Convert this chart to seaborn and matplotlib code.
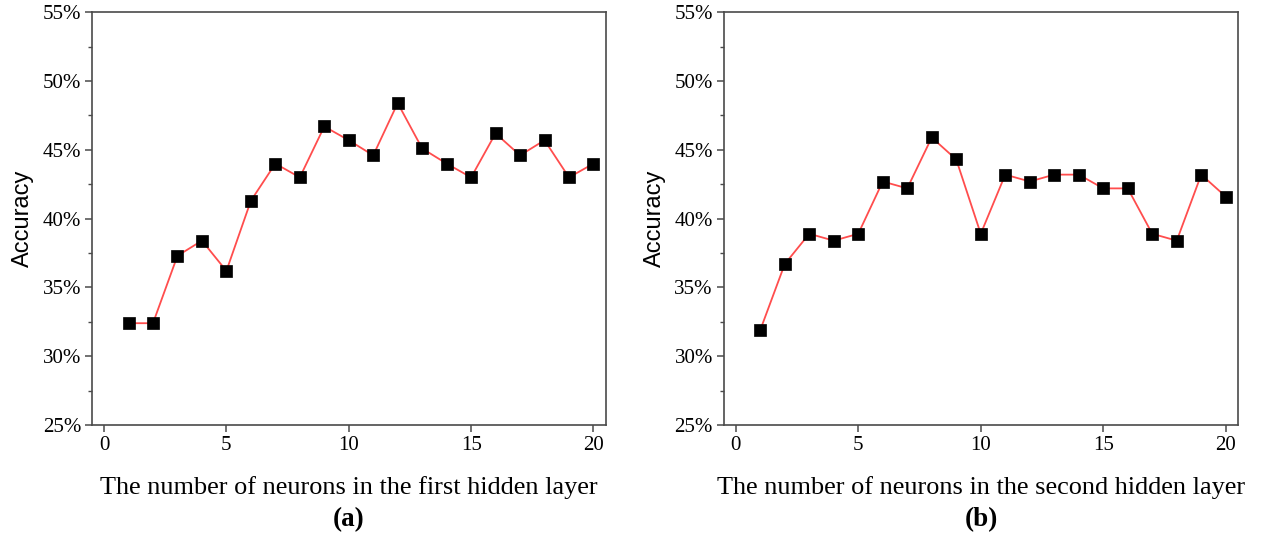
import matplotlib
matplotlib.use("Agg")
import matplotlib.pyplot as plt
import matplotlib.ticker as mticker
import numpy as np
import pandas as pd
import seaborn as sns

# Number of neurons tried in each hidden layer
neurons = list(range(1, 21))

# Classification accuracy (%) for each neuron count
acc_first = [32.4, 32.4, 37.3, 38.4, 36.2, 41.3, 44.0, 43.0, 46.7, 45.7,
             44.6, 48.4, 45.1, 44.0, 43.0, 46.2, 44.6, 45.7, 43.0, 44.0]
acc_second = [31.9, 36.7, 38.9, 38.4, 38.9, 42.7, 42.2, 45.9, 44.3, 38.9,
              43.2, 42.7, 43.2, 43.2, 42.2, 42.2, 38.9, 38.4, 43.2, 41.6]

xlabels = ["The number of neurons in the first hidden layer",
           "The number of neurons in the second hidden layer"]
panel_tags = ["(a)", "(b)"]

sns.set_style("ticks")
plt.rcParams["font.family"] = ["Liberation Serif", "DejaVu Serif"]
plt.rcParams["text.color"] = "black"
plt.rcParams["axes.labelcolor"] = "black"
plt.rcParams["xtick.labelcolor"] = "black"
plt.rcParams["ytick.labelcolor"] = "black"

W, H = 1261, 539
fig = plt.figure(figsize=(W / 100, H / 100), dpi=100)

axes_px = [(92.3, 605.7), (724.0, 1238.0)]
top_px, bottom_px = 12.3, 425.0

spine_col = "#4a4a4a"
line_col = "#ff4d4d"

for i, (series, xl, tag) in enumerate(zip([acc_first, acc_second], xlabels, panel_tags)):
    x0, x1 = axes_px[i]
    ax = fig.add_axes([x0 / W, 1 - bottom_px / H, (x1 - x0) / W, (bottom_px - top_px) / H])
    df = pd.DataFrame({"n": neurons, "acc": series})
    sns.lineplot(data=df, x="n", y="acc", ax=ax, color=line_col, linewidth=1.3,
                 marker="s", markersize=8, markerfacecolor="black",
                 markeredgecolor="black", markeredgewidth=0.5)

    ax.set_xlim(-0.48, 20.5)
    ax.set_ylim(25, 55)
    ax.xaxis.set_major_locator(mticker.MultipleLocator(5))
    ax.yaxis.set_major_locator(mticker.MultipleLocator(5))
    ax.yaxis.set_minor_locator(mticker.MultipleLocator(2.5))
    ax.yaxis.set_major_formatter(mticker.FuncFormatter(lambda v, p: f"{v:.0f}%"))

    for s in ax.spines.values():
        s.set_visible(True)
        s.set_color(spine_col)
        s.set_linewidth(1.2)

    ax.tick_params(axis="both", which="major", direction="out", length=5,
                   width=1.1, color=spine_col, labelsize=15, pad=3,
                   labelcolor="black")
    ax.tick_params(axis="y", which="minor", direction="out", length=3,
                   width=1.0, color=spine_col)

    ax.set_xlabel(xl, fontsize=18.9, labelpad=15, color="black")
    ax.set_ylabel("Accuracy", fontsize=17, family=["Liberation Sans", "DejaVu Sans"],
                  labelpad=6, color="black")

    cx = (x0 + x1) / 2 / W
    fig.text(cx, 1 - 520 / H, tag, ha="center", va="center", fontsize=19.5,
             fontweight="bold", color="black")

fig.savefig("out.png", dpi=100, facecolor="white")
